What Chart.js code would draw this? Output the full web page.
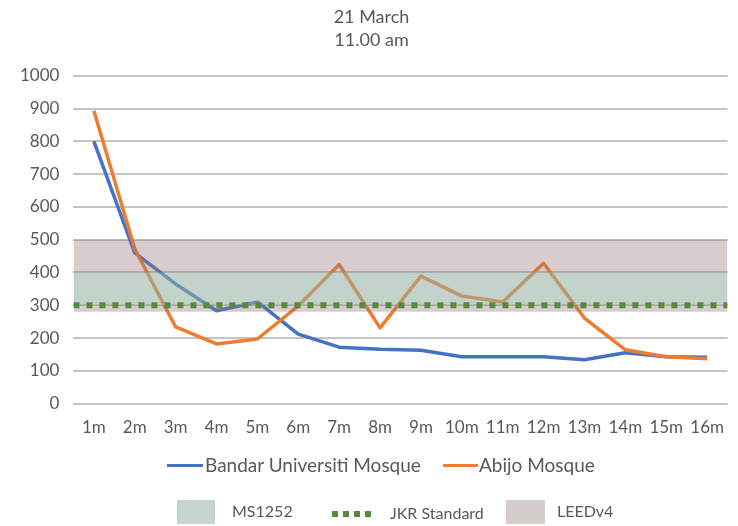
<!DOCTYPE html>
<html>
<head>
<meta charset="utf-8">
<script src="https://cdn.jsdelivr.net/npm/chart.js@4.4.1/dist/chart.umd.min.js"></script>
<style>
  html, body { margin: 0; padding: 0; background: #ffffff; }
  #wrap { position: relative; width: 738px; height: 526px; font-family: Lato, "Open Sans", sans-serif; color: #595959; }
  #chart { position: absolute; left: 0; top: 0; }
  .lg-text { position: absolute; line-height: 1; white-space: nowrap; }
  .swatch-line { position: absolute; height: 3px; }
  .swatch-box { position: absolute; }
  .dot { position: absolute; width: 6px; height: 6px; }
</style>
</head>
<body>
<div id="wrap">
  <canvas id="chart" width="738" height="526"></canvas>
  <div id="legend"></div>
</div>
<script>
// Horizontal distance from the window (metres)
const distances = ['1m','2m','3m','4m','5m','6m','7m','8m','9m','10m','11m','12m','13m','14m','15m','16m'];

// Measured illuminance (lux), 21 March 11.00 am
const bandarUniversiti = [800, 460, 365, 283, 310, 212, 172, 166, 163, 143, 143, 143, 134, 155, 143, 141];
const abijo = [893, 472, 234, 182, 197, 298, 424, 231, 389, 328, 310, 428, 261, 164, 143, 137];

// Recommended ranges / standards (lux)
const ms1252Range = [300, 400];
const leedv4Range = [280, 500];
const jkrStandard = 300;

const yTicks = [0, 100, 200, 300, 400, 500, 600, 700, 800, 900, 1000];

const textGrey = '#595959';
const fontFamily = 'Lato, "Open Sans", sans-serif';

// Bands and the standard line span the full plot width on a hidden 0..1 axis
const span = (v) => [{ x: 0, y: v }, { x: 1, y: v }];

const ctx = document.getElementById('chart').getContext('2d');
new Chart(ctx, {
  type: 'line',
  data: {
    labels: distances,
    datasets: [
      {
        label: 'Bandar Universiti Mosque',
        data: bandarUniversiti,
        borderColor: '#4472c4',
        borderWidth: 3.5,
        pointRadius: 0,
        tension: 0,
        borderJoinStyle: 'round',
        order: 4
      },
      {
        label: 'Abijo Mosque',
        data: abijo,
        borderColor: '#ed7d31',
        borderWidth: 3.5,
        pointRadius: 0,
        tension: 0,
        borderJoinStyle: 'round',
        order: 3
      },
      {
        label: 'LEEDv4',
        xAxisID: 'xBand',
        data: span(leedv4Range[1]),
        fill: { value: leedv4Range[0] },
        backgroundColor: 'rgba(150, 115, 115, 0.36)',
        borderWidth: 0,
        pointRadius: 0,
        order: 2
      },
      {
        label: 'MS1252',
        xAxisID: 'xBand',
        data: span(ms1252Range[1]),
        fill: { value: ms1252Range[0] },
        backgroundColor: 'rgba(147, 224, 200, 0.30)',
        borderWidth: 0,
        pointRadius: 0,
        order: 1
      },
      {
        label: 'JKR Standard',
        xAxisID: 'xBand',
        data: span(jkrStandard),
        borderColor: '#558a3a',
        borderWidth: 6,
        borderDash: [6, 7],
        borderCapStyle: 'butt',
        pointRadius: 0,
        fill: false,
        order: 0
      }
    ]
  },
  options: {
    responsive: false,
    animation: false,
    layout: { padding: { left: 6, right: 1, top: 0, bottom: 74 } },
    plugins: {
      legend: { display: false },
      tooltip: { enabled: false },
      title: {
        display: true,
        text: ['21 March', '11.00 am'],
        color: textGrey,
        font: { family: fontFamily, size: 18, weight: 'normal', lineHeight: 1.27 },
        padding: { top: 6, bottom: 24 }
      }
    },
    scales: {
      x: {
        type: 'category',
        offset: true,
        grid: { display: false, drawTicks: false },
        border: { display: false },
        ticks: { color: textGrey, font: { family: fontFamily, size: 17 }, padding: 14, maxRotation: 0, autoSkip: false }
      },
      xBand: {
        type: 'linear',
        min: 0,
        max: 1,
        display: false
      },
      y: {
        min: 0,
        max: 1000,
        afterBuildTicks: (axis) => { axis.ticks = yTicks.map(v => ({ value: v })); },
        grid: { color: '#c4c4c4', lineWidth: 2, drawTicks: false },
        border: { display: false },
        ticks: {
          color: textGrey,
          font: { family: fontFamily, size: 17 },
          padding: 14,
          callback: (v) => String(v)
        }
      }
    }
  }
});

// Legend below the plot
const legendItems = [
  { kind: 'line', color: '#4472c4', text: 'Bandar Universiti Mosque', sx: 167, sw: 36, tx: 205, cy: 465, size: 19 },
  { kind: 'line', color: '#ed7d31', text: 'Abijo Mosque', sx: 443, sw: 35, tx: 479, cy: 465, size: 19 },
  { kind: 'box', color: '#c8d4ce', text: 'MS1252', sx: 177, sw: 38, tx: 232, cy: 512, size: 16 },
  { kind: 'dots', color: '#558a3a', text: 'JKR Standard', sx: 332, sw: 40, tx: 390, cy: 514, size: 16 },
  { kind: 'box', color: '#d7cccc', text: 'LEEDv4', sx: 506, sw: 39, tx: 557, cy: 512, size: 16 }
];
const legend = document.getElementById('legend');
legendItems.forEach(it => {
  if (it.kind === 'line') {
    const s = document.createElement('div');
    s.className = 'swatch-line';
    s.style.left = it.sx + 'px'; s.style.width = it.sw + 'px';
    s.style.top = (it.cy - 1.5) + 'px'; s.style.background = it.color;
    legend.appendChild(s);
  } else if (it.kind === 'box') {
    const s = document.createElement('div');
    s.className = 'swatch-box';
    s.style.left = it.sx + 'px'; s.style.width = it.sw + 'px';
    s.style.top = (it.cy - 12) + 'px'; s.style.height = '24px'; s.style.background = it.color;
    legend.appendChild(s);
  } else {
    for (let i = 0; i < 4; i++) {
      const d = document.createElement('div');
      d.className = 'dot';
      d.style.left = (it.sx + i * 11) + 'px'; d.style.top = (it.cy - 3) + 'px';
      d.style.background = it.color;
      legend.appendChild(d);
    }
  }
  const t = document.createElement('div');
  t.className = 'lg-text';
  t.textContent = it.text;
  t.style.left = it.tx + 'px';
  t.style.fontSize = it.size + 'px';
  t.style.top = (it.cy - it.size * 0.55) + 'px';
  legend.appendChild(t);
});
</script>
</body>
</html>
